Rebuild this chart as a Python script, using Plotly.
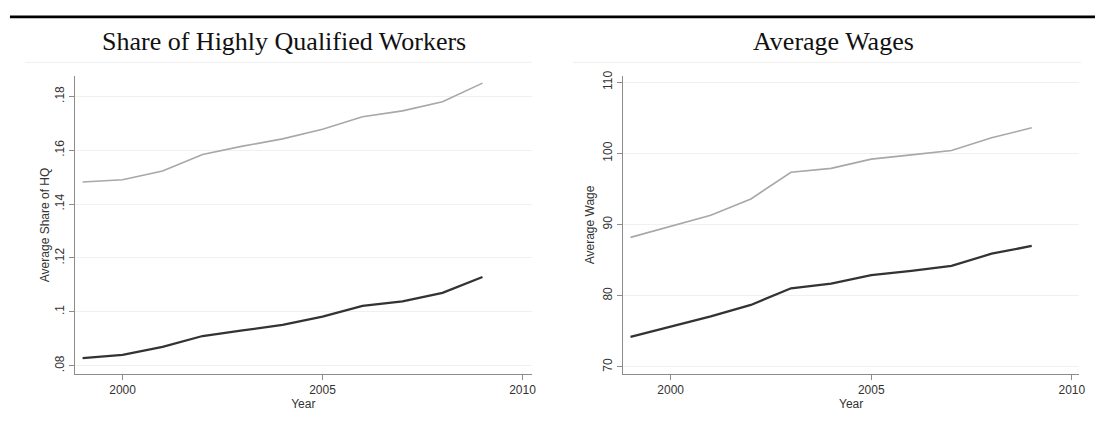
import plotly.graph_objects as go

years = [1999, 2000, 2001, 2002, 2003, 2004, 2005, 2006, 2007, 2008, 2009]

# Left panel: share of highly qualified workers
share_light = [0.1482, 0.1490, 0.1523, 0.1584, 0.1615, 0.1642, 0.1678, 0.1724, 0.1746, 0.1780, 0.1849]
share_dark = [0.0828, 0.0840, 0.0870, 0.0910, 0.0931, 0.0951, 0.0982, 0.1022, 0.1039, 0.1070, 0.1129]

# Right panel: average wages
wage_light = [88.2, 89.7, 91.3, 93.6, 97.35, 97.9, 99.2, 99.8, 100.4, 102.2, 103.6]
wage_dark = [74.2, 75.6, 77.1, 78.7, 81.05, 81.7, 82.9, 83.5, 84.2, 85.9, 87.0]

x_ticks = [2000, 2005, 2010]
share_ticks = [0.08, 0.10, 0.12, 0.14, 0.16, 0.18]
share_tick_labels = [".08", ".1", ".12", ".14", ".16", ".18"]
wage_ticks = [70, 80, 90, 100, 110]
wage_tick_labels = ["70", "80", "90", "100", "110"]

titles = ["Share of Highly Qualified Workers", "Average Wages"]
y_titles = ["Average Share of HQ", "Average Wage"]
x_title = "Year"

W, H = 1101, 432
LIGHT = "#a8a8a8"
DARK = "#333333"
AXIS = "#8c8c8c"
GRID = "#f0f0f0"
TXT = "#333333"
SANS = "Liberation Sans, Arial, sans-serif"
SERIF = "Liberation Serif, DejaVu Serif, serif"

fig = go.Figure()
fig.add_trace(go.Scatter(x=years, y=share_light, mode="lines", line=dict(color=LIGHT, width=1.6),
                         xaxis="x", yaxis="y", showlegend=False))
fig.add_trace(go.Scatter(x=years, y=share_dark, mode="lines", line=dict(color=DARK, width=2.3),
                         xaxis="x", yaxis="y", showlegend=False))
fig.add_trace(go.Scatter(x=years, y=wage_light, mode="lines", line=dict(color=LIGHT, width=1.6),
                         xaxis="x2", yaxis="y2", showlegend=False))
fig.add_trace(go.Scatter(x=years, y=wage_dark, mode="lines", line=dict(color=DARK, width=2.3),
                         xaxis="x2", yaxis="y2", showlegend=False))

y_dom = [1 - 373.3 / H, 1 - 71.7 / H]

def xaxis(dom, rng, anchor):
    return dict(domain=dom, range=rng, anchor=anchor, tickvals=x_ticks,
                showline=True, linecolor=AXIS, linewidth=1, ticks="outside", ticklen=5,
                tickcolor=AXIS, tickwidth=1, showgrid=False, zeroline=False,
                tickfont=dict(family=SANS, size=12, color=TXT),
                title=dict(text=x_title, font=dict(family=SANS, size=12, color=TXT), standoff=0))

def yaxis(rng, anchor, vals, labels, title, standoff):
    return dict(domain=y_dom, range=rng, anchor=anchor, tickvals=vals, ticktext=labels,
                tickangle=-90, showline=True, linecolor=AXIS, linewidth=1, ticks="outside",
                ticklen=5, tickcolor=AXIS, tickwidth=1, showgrid=True, gridcolor=GRID,
                gridwidth=1, zeroline=False,
                tickfont=dict(family=SANS, size=12, color=TXT),
                title=dict(text=title, font=dict(family=SANS, size=12, color=TXT), standoff=standoff))

fig.update_layout(
    width=W, height=H, margin=dict(l=0, r=0, t=0, b=0),
    paper_bgcolor="white", plot_bgcolor="white",
    xaxis=xaxis([75 / W, 535 / W], [1998.8, 2010.24], "y"),
    yaxis=yaxis([0.0769, 0.1876], "x", share_ticks, share_tick_labels, y_titles[0], 0),
    xaxis2=xaxis([626.7 / W, 1085 / W], [1998.82, 2010.18], "y2"),
    yaxis2=yaxis([69.0, 110.9], "x2", wage_ticks, wage_tick_labels, y_titles[1], 4),
    annotations=[
        dict(text=titles[0], x=286 / W, y=1 - 37 / H, xref="paper", yref="paper",
             showarrow=False, xanchor="center", yanchor="middle",
             font=dict(family=SERIF, size=26, color="#111111")),
        dict(text=titles[1], x=838 / W, y=1 - 37 / H, xref="paper", yref="paper",
             showarrow=False, xanchor="center", yanchor="middle",
             font=dict(family=SERIF, size=26, color="#111111")),
    ],
    shapes=[
        dict(type="line", xref="paper", yref="paper", x0=10 / W, x1=1.0,
             y0=1 - 12 / H, y1=1 - 12 / H, line=dict(color="black", width=2.6)),
        dict(type="line", xref="paper", yref="paper", x0=25 / W, x1=535 / W,
             y0=1 - 58 / H, y1=1 - 58 / H, line=dict(color="#efefef", width=1)),
        dict(type="line", xref="paper", yref="paper", x0=576 / W, x1=1087 / W,
             y0=1 - 58 / H, y1=1 - 58 / H, line=dict(color="#efefef", width=1)),
    ],
)

fig.write_html("out.html")
